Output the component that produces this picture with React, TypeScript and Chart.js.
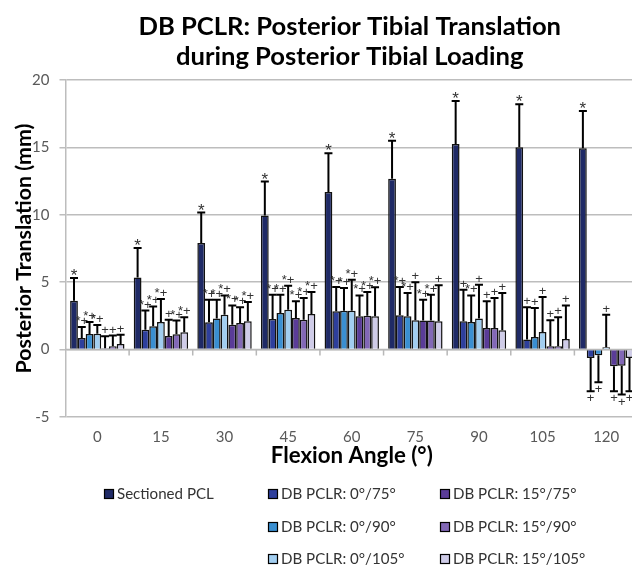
import React, { useEffect, useRef } from 'react';
import { Chart, registerables } from 'chart.js';

Chart.register(...registerables);

const categories = ['0', '15', '30', '45', '60', '75', '90', '105', '120'];
const seriesNames = [
  'Sectioned PCL',
  'DB PCLR: 0°/75°',
  'DB PCLR: 0°/90°',
  'DB PCLR: 0°/105°',
  'DB PCLR: 15°/75°',
  'DB PCLR: 15°/90°',
  'DB PCLR: 15°/105°',
];
const seriesColors = ['#1F2A66', '#2E3F9C', '#3A8FD1', '#A2CEF0', '#5A3C98', '#8268B6', '#CFCCE8'];

const sectioned = [3.63, 5.35, 7.9, 9.95, 11.7, 12.67, 15.26, 15.01, 14.94];
const pclr0_75 = [0.86, 1.48, 2.02, 2.27, 2.84, 2.54, 2.1, 0.74, -0.62];
const pclr0_90 = [1.16, 1.73, 2.3, 2.71, 2.89, 2.47, 2.05, 0.94, -0.42];
const pclr0_105 = [1.18, 2.05, 2.59, 2.96, 2.89, 2.17, 2.3, 1.31, 0.17];
const pclr15_75 = [0.1, 1.01, 1.85, 2.35, 2.47, 2.15, 1.6, 0.25, -1.23];
const pclr15_90 = [0.25, 1.14, 1.97, 2.22, 2.52, 2.15, 1.6, 0.25, -1.19];
const pclr15_105 = [0.42, 1.28, 2.1, 2.64, 2.47, 2.1, 1.43, 0.79, -0.62];

const sectionedSD = [1.68, 2.18, 2.27, 2.52, 2.87, 2.83, 3.18, 3.19, 2.76];
const pclr0_75SD = [0.82, 1.42, 1.68, 1.8, 1.8, 2.1, 2.34, 2.4, 2.47];
const pclr0_90SD = [0.89, 1.47, 1.4, 1.36, 1.68, 1.73, 1.97, 2.14, 2.0];
const pclr0_105SD = [0.65, 1.7, 1.43, 1.78, 2.3, 2.82, 2.51, 2.59, 2.42];
const pclr15_75SD = [0.89, 1.21, 1.43, 1.23, 1.55, 1.55, 1.98, 1.92, 1.86];
const pclr15_90SD = [0.79, 1.01, 1.17, 1.61, 1.75, 1.92, 2.23, 2.15, 2.14];
const pclr15_105SD = [0.69, 1.12, 1.43, 1.63, 2.15, 2.67, 2.77, 2.49, 2.47];

const sectionedSig = ['*', '*', '*', '*', '*', '*', '*', '*', '*'];
const pclr0_75Sig = ['*+', '*+', '*+', '*+', '*+', '*+', '+', '+', '+'];
const pclr0_90Sig = ['*+', '*+', '*+', '*+', '*+', '*+', '*+', '+', '+'];
const pclr0_105Sig = ['*+', '*+', '*+', '*+', '*+', '+', '+', '+', '+'];
const pclr15_75Sig = ['+', '+', '*+', '*+', '*+', '*+', '+', '+', '+'];
const pclr15_90Sig = ['+', '*+', '*+', '*+', '*+', '*+', '+', '+', '+'];
const pclr15_105Sig = ['+', '*+', '*+', '*+', '*+', '+', '+', '+', '+'];

const yTicks = [-5, 0, 5, 10, 15, 20];

const titleLines = ['DB PCLR: Posterior Tibial Translation', 'during Posterior Tibial Loading'];
const yTitle = 'Posterior Translation (mm)';
const xTitle = 'Flexion Angle (°)';

const FONT = 'Lato, "Open Sans", sans-serif';
const MARK_FONT = '"Liberation Sans", Arial, sans-serif';

const values = [sectioned, pclr0_75, pclr0_90, pclr0_105, pclr15_75, pclr15_90, pclr15_105];
const sds = [sectionedSD, pclr0_75SD, pclr0_90SD, pclr0_105SD, pclr15_75SD, pclr15_90SD, pclr15_105SD];
const sigs = [sectionedSig, pclr0_75Sig, pclr0_90Sig, pclr0_105Sig, pclr15_75Sig, pclr15_90Sig, pclr15_105Sig];

function fitSize(text: string, weight: string, target: number): number {
  const c = document.createElement('canvas').getContext('2d')!;
  c.font = `${weight} 100px ${FONT}`;
  const w = c.measureText(text).width;
  return Math.round(((100 * target) / w) * 10) / 10;
}

const titlePlugin = {
  id: 'customTitle',
  afterDraw(chart: any) {
    const { ctx, chartArea } = chart;
    const cx = (chartArea.left + chartArea.right) / 2 - 2;
    ctx.save();
    ctx.fillStyle = '#000';
    ctx.textAlign = 'center';
    ctx.textBaseline = 'middle';
    const size = fitSize(titleLines[0], 'bold', 422);
    ctx.font = `bold ${size}px ${FONT}`;
    ctx.fillText(titleLines[0], cx, 27);
    ctx.fillText(titleLines[1], cx, 57);
    ctx.restore();
  },
};

const zeroTicksPlugin = {
  id: 'zeroTicks',
  beforeDatasetsDraw(chart: any) {
    const { ctx } = chart;
    const x = chart.scales.x;
    const y = chart.scales.y;
    const y0 = y.getPixelForValue(0);
    const n = categories.length;
    const cw = (x.right - x.left) / n;
    ctx.save();
    ctx.strokeStyle = '#B8B8B8';
    ctx.lineWidth = 1.5;
    ctx.beginPath();
    ctx.moveTo(x.left, y0);
    ctx.lineTo(x.right, y0);
    for (let i = 1; i < n; i++) {
      const bx = x.left + cw * i;
      ctx.moveTo(bx, y0);
      ctx.lineTo(bx, y0 + 6);
    }
    ctx.stroke();
    ctx.restore();
  },
};

const errorBarPlugin = {
  id: 'errorBars',
  afterDatasetsDraw(chart: any) {
    const { ctx } = chart;
    const y = chart.scales.y;
    chart.data.datasets.forEach((ds: any, i: number) => {
      const meta = chart.getDatasetMeta(i);
      meta.data.forEach((bar: any, j: number) => {
        const v = ds.data[j];
        const e = ds.sd[j];
        const note = ds.sig[j];
        const end = v >= 0 ? v + e : v - e;
        const p0 = y.getPixelForValue(v);
        const p1 = y.getPixelForValue(end);
        ctx.save();
        ctx.strokeStyle = '#000';
        ctx.lineWidth = 2;
        ctx.beginPath();
        ctx.moveTo(bar.x, p0);
        ctx.lineTo(bar.x, p1);
        ctx.moveTo(bar.x - 4, p1);
        ctx.lineTo(bar.x + 4, p1);
        ctx.stroke();
        ctx.fillStyle = '#333';
        ctx.textAlign = 'center';
        if (note) {
          if (i === 0) {
            ctx.font = `17px ${MARK_FONT}`;
            ctx.textBaseline = 'alphabetic';
            ctx.fillText(note, bar.x, p1 + 3);
          } else if (v >= 0) {
            ctx.font = `13px ${MARK_FONT}`;
            ctx.textBaseline = 'alphabetic';
            ctx.fillText(note, bar.x, p1 - 2);
          } else {
            ctx.font = `13px ${MARK_FONT}`;
            ctx.textBaseline = 'top';
            ctx.fillText(note, bar.x, p1 + 1);
          }
        }
        ctx.restore();
      });
    });
  },
};

const legendCols = [
  { sq: 104, items: [0] },
  { sq: 268, items: [1, 2, 3] },
  { sq: 440, items: [4, 5, 6] },
];
const legendRows = [494, 527, 559];

const legendPlugin = {
  id: 'customLegend',
  afterDraw(chart: any) {
    const { ctx } = chart;
    ctx.save();
    const size = fitSize(seriesNames[0], 'normal', 97);
    ctx.font = `${size}px ${FONT}`;
    ctx.textBaseline = 'middle';
    ctx.textAlign = 'left';
    legendCols.forEach((col) => {
      col.items.forEach((idx, r) => {
        const cy = legendRows[r];
        ctx.fillStyle = seriesColors[idx];
        ctx.fillRect(col.sq, cy - 5, 10, 10);
        ctx.strokeStyle = '#000';
        ctx.lineWidth = 1.2;
        ctx.strokeRect(col.sq + 0.5, cy - 4.5, 9, 9);
        ctx.fillStyle = '#333';
        ctx.fillText(seriesNames[idx], col.sq + 13, cy);
      });
    });
    ctx.restore();
  },
};

export default function App() {
  const ref = useRef<HTMLCanvasElement | null>(null);

  useEffect(() => {
    if (!ref.current) return;
    const xTitleSize = fitSize(xTitle, 'bold', 162);
    const yTitleSize = fitSize(yTitle, 'bold', 250);
    const chart = new Chart(ref.current, {
      type: 'bar',
      data: {
        labels: categories,
        datasets: values.map((vals, i) => ({
          label: seriesNames[i],
          data: vals,
          sd: sds[i],
          sig: sigs[i],
          backgroundColor: seriesColors[i],
          borderColor: '#111',
          borderWidth: 1.5,
          categoryPercentage: 0.855,
          barPercentage: 1.0,
        })) as any,
      },
      options: {
        responsive: false,
        animation: false,
        devicePixelRatio: 1,
        layout: { padding: { left: 0, top: 80, right: 2, bottom: 98 } },
        plugins: {
          legend: { display: false },
          title: { display: false },
          tooltip: { enabled: false },
        },
        scales: {
          x: {
            grid: { display: false, drawTicks: false },
            border: { display: false },
            ticks: { color: '#595959', font: { family: FONT, size: 15 }, padding: 11 },
            title: {
              display: true,
              text: xTitle,
              color: '#000',
              font: { family: FONT, size: xTitleSize, weight: 'bold' },
              padding: { top: 0, bottom: 2 },
            },
            afterFit: (s: any) => {
              s.height = 54;
            },
          },
          y: {
            min: -5,
            max: 20,
            afterBuildTicks: (s: any) => {
              s.ticks = yTicks.map((v) => ({ value: v }));
            },
            grid: { color: '#BDBDBD', lineWidth: 1.5, tickLength: 6 },
            border: { color: '#BDBDBD', width: 1.5 },
            ticks: { color: '#595959', font: { family: FONT, size: 15 }, padding: 10 },
            title: {
              display: true,
              text: yTitle,
              color: '#000',
              font: { family: FONT, size: yTitleSize, weight: 'bold' },
              padding: { top: 11, bottom: 0 },
            },
            afterFit: (s: any) => {
              s.width = 65.5;
            },
          },
        },
      } as any,
      plugins: [zeroTicksPlugin, errorBarPlugin, titlePlugin, legendPlugin],
    });
    return () => chart.destroy();
  }, []);

  return (
    <div
      style={{
        position: 'fixed',
        left: 0,
        top: 0,
        width: 632,
        height: 569,
        overflow: 'hidden',
        background: '#fff',
      }}
    >
      <canvas ref={ref} width={640} height={569} style={{ width: 640, height: 569, display: 'block' }} />
    </div>
  );
}
